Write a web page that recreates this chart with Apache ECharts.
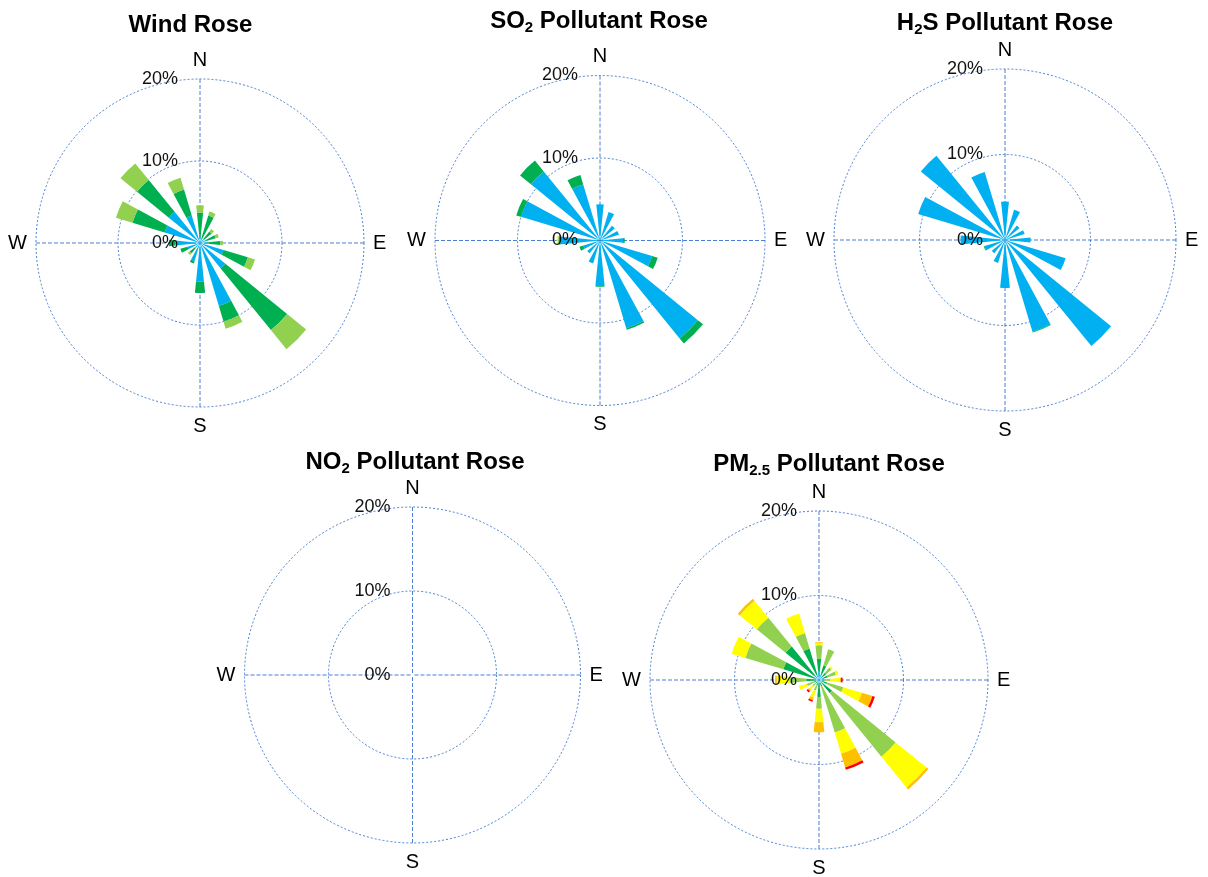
<!DOCTYPE html>
<html><head><meta charset="utf-8">
<script src="https://cdn.jsdelivr.net/npm/echarts@6/dist/echarts.min.js"></script>
<style>html,body{margin:0;padding:0;background:#fff}#c{width:1208px;height:877px}</style>
</head><body><div id="c"></div>
<script>
// ---- data (percent of time, stacked increments per class) ----
const directions = ['N','NNE','NE','ENE','E','ESE','SE','SSE','S','SSW','SW','WSW','W','WNW','NW','NNW'];
const compassLabels = ['N','E','S','W'];
const radialTicks = [0, 10, 20];

const windBlue       = [0.6,0.5,0.6,0.8,1.0,3.0,4.0,8.0,4.7,2.3,0.8,1.6,3.0,4.5,4.9,3.5];
const windDarkGreen  = [3.1,3.0,1.2,1.2,1.5,3.1,9.7,2.0,1.4,0.3,0.8,0.9,0.8,4.1,5.0,3.3];
const windLightGreen = [0.9,0.5,0.4,0.4,0.3,0.9,3.0,0.9,0,0,0.3,0,0,2.1,2.6,1.5];

const so2Blue       = [4.4,3.6,2.3,2.4,2.8,6.6,15.3,11.1,5.5,2.9,2.0,2.1,4.9,10.0,10.8,7.1];
const so2DarkGreen  = [0,0,0,0,0.2,0.7,0.8,0.2,0.1,0,0,0.5,0.1,0.6,1.7,1.2];
const so2LightGreen = [0,0,0,0,0,0,0,0,0,0,0,0,0.1,0,0,0];
const so2Yellow     = [0,0,0,0,0,0,0,0,0,0,0,0,0.15,0,0,0];

const h2sBlue      = [4.5,3.7,2.2,2.4,3.0,7.4,16.0,11.2,5.6,2.8,2.0,2.5,5.2,10.6,12.7,8.3];
const h2sDarkGreen = [0,0,0,0,0,0,0,0.1,0,0,0,0.1,0,0,0,0];

const pmBlue       = [1.1,0.8,0.5,0.5,0.3,0.3,0.5,0.3,0.4,0.3,0.2,0.3,0.5,0.5,0.8,0.6];
const pmDarkGreen  = [1.4,1.0,0.6,0.6,0.3,0.7,1.5,0.5,1.6,0.4,0.3,0.4,1.0,3.9,4.3,3.3];
const pmLightGreen = [1.6,2.0,0.8,1.0,0.7,2.0,9.7,5.7,1.4,0.6,0.5,0.8,2.0,4.7,4.4,1.9];
const pmYellow     = [0.3,0,0.2,0.3,1.2,2.3,4.7,2.6,1.6,0.9,0.5,1.0,1.5,1.7,2.6,2.4];
const pmOrange     = [0.1,0,0,0,0.1,1.3,0.3,1.7,1.2,0.3,0.2,0,0.2,0,0.3,0];
const pmRed        = [0,0,0,0,0.2,0.3,0,0.3,0,0.2,0.2,0,0,0,0,0];

// ---- styling / layout ----
const C = {blue:'#00B0F0', dg:'#00B050', lg:'#92D050', y:'#FFFF00', o:'#FFC000', r:'#FF0000'};
const lineColor = '#4a7fd4';
const FONT = '"Liberation Sans", Arial, sans-serif';

const roses = [
  {cx:200, cy:243, r:164, tx:185.5, ty:6, text:'{b|Wind Rose}',
   classes:[[windBlue,C.blue],[windDarkGreen,C.dg],[windLightGreen,C.lg]]},
  {cx:600, cy:240.5, r:165, tx:594, ty:2, text:'{b|SO}{s|2}{b| Pollutant Rose}',
   classes:[[so2Blue,C.blue],[so2DarkGreen,C.dg],[so2LightGreen,C.lg],[so2Yellow,C.y]]},
  {cx:1005, cy:240, r:171, tx:1000, ty:4, text:'{b|H}{s|2}{b|S Pollutant Rose}',
   classes:[[h2sBlue,C.blue],[h2sDarkGreen,C.dg]]},
  {cx:412.5, cy:675, r:168, tx:410, ty:443, text:'{b|NO}{s|2}{b| Pollutant Rose}',
   classes:[]},
  {cx:819, cy:680, r:169, tx:824, ty:445, text:'{b|PM}{s|2.5}{b| Pollutant Rose}',
   classes:[[pmBlue,C.blue],[pmDarkGreen,C.dg],[pmLightGreen,C.lg],[pmYellow,C.y],[pmOrange,C.o],[pmRed,C.r]]}
];

const option = {animation:false, backgroundColor:'#fff', title:[], polar:[], angleAxis:[], radiusAxis:[], series:[]};
const rich = {
  b:{fontSize:24, fontWeight:'bold', fontFamily:FONT, color:'#000', lineHeight:28},
  s:{fontSize:15, fontWeight:'bold', fontFamily:FONT, color:'#000', lineHeight:11, verticalAlign:'bottom'}
};
roses.forEach((ro, i) => {
  const gi = 2*i, bi = 2*i + 1;
  option.title.push({text: ro.text, left: ro.tx, top: ro.ty, textAlign:'center', textVerticalAlign:'top', textStyle:{rich}});
  option.polar.push({center:[ro.cx, ro.cy], radius: ro.r});
  option.polar.push({center:[ro.cx, ro.cy], radius: ro.r});
  option.angleAxis.push({polarIndex: gi, type:'value', min:0, max:360, interval:90, startAngle:90, clockwise:true,
    axisLine:{show:false}, axisTick:{show:false},
    splitLine:{show:true, lineStyle:{color:lineColor, width:1, type:[4,2]}},
    axisLabel:{show:true, margin:9, fontSize:20, color:'#000', fontFamily:FONT,
      formatter: v => compassLabels[Math.round(v/90)] && v < 360 ? compassLabels[Math.round(v/90)] : ''}, z:0});
  option.radiusAxis.push({polarIndex: gi, type:'value', min:radialTicks[0], max:radialTicks[radialTicks.length-1], interval:radialTicks[1]-radialTicks[0],
    axisLine:{show:false}, axisTick:{show:false}, splitLine:{show:false},
    axisLabel:{show:true, margin:22, fontSize:18, color:'#111', fontFamily:FONT, formatter:'{value}%'}, z:5});
  option.angleAxis.push({polarIndex: bi, type:'category', data: directions, startAngle: 90 + 360/32, clockwise:true,
    axisLine:{show:false}, axisTick:{show:false}, axisLabel:{show:false}, splitLine:{show:false}});
  option.radiusAxis.push({polarIndex: bi, type:'value', min:radialTicks[0], max:radialTicks[radialTicks.length-1], interval:radialTicks[1]-radialTicks[0],
    axisLine:{show:false}, axisTick:{show:false}, axisLabel:{show:false},
    splitLine:{show:true, lineStyle:{color:lineColor, width:1, type:[2,2]}}, z:0});
  ro.classes.forEach(([arr, color]) => {
    option.series.push({type:'bar', coordinateSystem:'polar', polarIndex: bi, stack:'st'+i, data: arr,
      barWidth:'52%', itemStyle:{color}, silent:true, z:2});
  });
});
const chart = echarts.init(document.getElementById('c'), null, {renderer:'canvas'});
chart.setOption(option);
</script></body></html>
